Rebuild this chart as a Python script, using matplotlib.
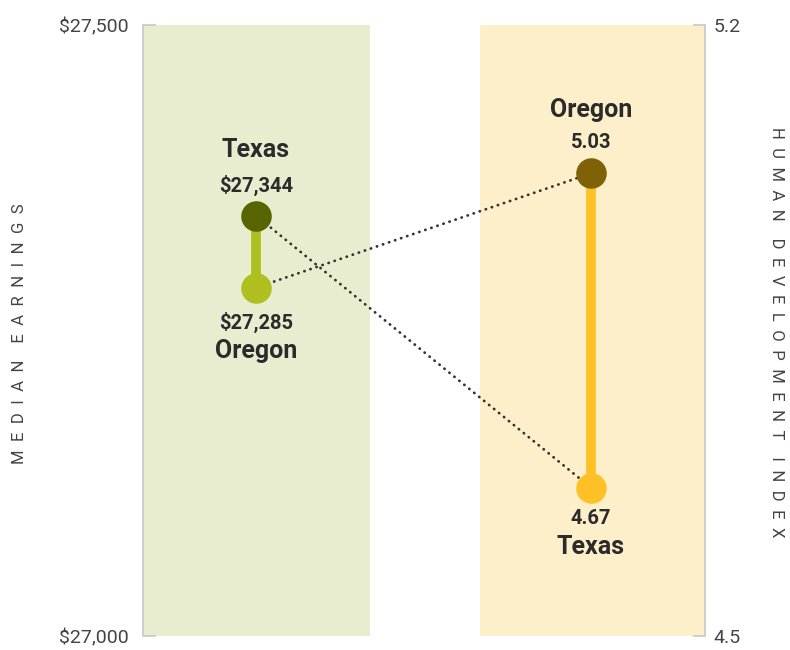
import matplotlib
matplotlib.use("Agg")
import matplotlib.pyplot as plt

states = ["Texas", "Oregon"]
earnings = [27344, 27285]
hdi = [4.67, 5.03]
earn_ticks = [27000, 27500]
earn_tick_labels = ["$27,000", "$27,500"]
hdi_ticks = [4.5, 5.2]
hdi_tick_labels = ["4.5", "5.2"]
earn_labels = ["$27,344", "$27,285"]
hdi_labels = ["4.67", "5.03"]
left_title = "MEDIAN EARNINGS"
right_title = "HUMAN DEVELOPMENT INDEX"

plt.rcParams['font.family'] = ['Roboto', 'DejaVu Sans']

fig = plt.figure(figsize=(7.9, 6.5), dpi=100)
ax = fig.add_axes([143/790, 14/650, 562/790, 611/650])
ax2 = ax.twinx()

XL, XR = 0.201, 0.797
ax.set_xlim(0, 1)
ax.set_ylim(27000, 27500)
ax2.set_ylim(4.5, 5.2)

ax.axvspan(0, 0.404, color="#E9EDCF", zorder=0, lw=0)
ax.axvspan(0.6, 1.0, color="#FDEFC9", zorder=0, lw=0)

txt = "#2b2b2b"
L = ax.transData
# connectors (drawn on ax2, below dots)
inv = ax2.transData.inverted()
for i in range(2):
    a = inv.transform(ax.transData.transform((XL, earnings[i])))
    b = (XR, hdi[i])
    ax2.plot([a[0], b[0]], [a[1], b[1]], linestyle=(0, (0.1, 2.2)), color="#333333",
             lw=2.0, dash_capstyle="round", zorder=2)

# left: earnings
ax2.plot([XL, XL], earnings, color="#AEBF1F", lw=7, solid_capstyle="butt", zorder=3, transform=L)
ax2.plot([XL], [earnings[0]], "o", ms=22, color="#586400", mec="none", zorder=4, transform=L)
ax2.plot([XL], [earnings[1]], "o", ms=22, color="#AEBF1F", mec="none", zorder=4, transform=L)
# right: hdi
ax2.plot([XR, XR], hdi, color="#FFC125", lw=7, solid_capstyle="butt", zorder=3)
ax2.plot([XR], [hdi[1]], "o", ms=22, color="#7F6108", mec="none", zorder=4)
ax2.plot([XR], [hdi[0]], "o", ms=22, color="#FFC125", mec="none", zorder=4)

def lab(a, x, y, dy, s, size):
    a.annotate(s, (x, y), xytext=(0, dy), textcoords="offset pixels",
               ha="center", va="center", fontsize=size, fontweight="bold", color=txt, zorder=5)

lab(ax, XL, earnings[0], 30, earn_labels[0], 14.5)
lab(ax, XL, earnings[0], 66, states[0], 18)
lab(ax, XL, earnings[1], -35, earn_labels[1], 14.5)
lab(ax, XL, earnings[1], -63, states[1], 18)
lab(ax2, XR, hdi[1], 31, hdi_labels[1], 14.5)
lab(ax2, XR, hdi[1], 63, states[1], 18)
lab(ax2, XR, hdi[0], -31, hdi_labels[0], 14.5)
lab(ax2, XR, hdi[0], -59, states[0], 18)

for a in (ax, ax2):
    for s in ("top", "bottom"):
        a.spines[s].set_visible(False)
    a.set_xticks([])
ax.spines["right"].set_visible(False)
ax2.spines["left"].set_visible(False)
ax.spines["left"].set_color("#c8c8c8")
ax.spines["left"].set_linewidth(1.2)
ax2.spines["right"].set_color("#c8c8c8")
ax2.spines["right"].set_linewidth(1.2)

ax.set_yticks(earn_ticks, earn_tick_labels)
ax2.set_yticks(hdi_ticks, hdi_tick_labels)
ax.tick_params(axis="y", direction="in", length=9, color="#c8c8c8", width=1.2,
               labelsize=14, labelcolor="#444444", pad=10)
ax2.tick_params(axis="y", direction="in", length=9, color="#c8c8c8", width=1.2,
                labelsize=14, labelcolor="#444444", pad=6)

def spaced(s):
    return "\u2002\u2002".join("\u2002".join(w) for w in s.split(" "))

fig.text(20/790, (650-334)/650, spaced(left_title), rotation=90, ha="center", va="center",
         fontsize=12, color="#444444")
fig.text(776/790, (650-332)/650, spaced(right_title), rotation=-90,
         ha="center", va="center", fontsize=12, color="#444444")

fig.savefig("out.png", dpi=100)
